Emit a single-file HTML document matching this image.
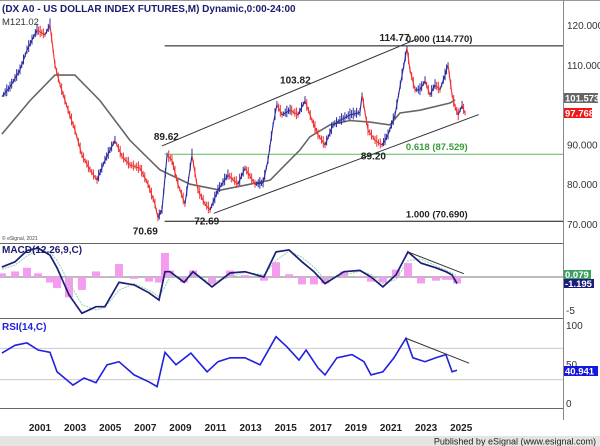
<!DOCTYPE html>
<html><head><meta charset="utf-8"><style>
body{margin:0;background:#fff;}
svg{display:block;font-family:"Liberation Sans",sans-serif;}
</style></head><body>
<svg id="c" width="600" height="446" viewBox="0 0 600 446">
<rect x="0" y="0" width="600" height="446" fill="#fff"/>
<g id="frame">
<line x1="0" y1="0.5" x2="600" y2="0.5" stroke="#999"/>
<line x1="563.5" y1="0" x2="563.5" y2="420" stroke="#888"/>
<line x1="0" y1="243.5" x2="563" y2="243.5" stroke="#666"/>
<line x1="0" y1="318.5" x2="563" y2="318.5" stroke="#666"/>
<line x1="0" y1="408.5" x2="563" y2="408.5" stroke="#666"/>
</g>
<g id="price"></g><g id="macd"></g><g id="rsi"></g><g id="xaxis"></g>
<rect x="0" y="436" width="600" height="10" fill="#e4e4e4"/>
<text x="596" y="444.5" font-size="9" text-anchor="end" fill="#222">Published by eSignal (www.esignal.com)</text>
</svg>
<script>
const NS="http://www.w3.org/2000/svg";
// ---- data ----
const priceDates=[1998.83,1999.29,1999.86,2000.26,2000.83,2001.28,2001.57,2001.85,2002.14,2002.6,2002.99,2003.39,2003.85,2004.25,2004.7,2005.27,2005.67,2006.13,2006.7,2007.15,2007.55,2007.72,2007.95,2008.24,2008.52,2008.86,2009.26,2009.66,2010.0,2010.4,2010.69,2011.14,2011.71,2012.28,2012.68,2013.25,2013.71,2013.99,2014.28,2014.5,2014.79,2015.25,2015.7,2016.1,2016.5,2016.84,2017.24,2017.7,2018.09,2018.66,2019.23,2019.35,2019.69,2020.09,2020.49,2020.83,2021.23,2021.63,2021.91,2022.08,2022.37,2022.65,2022.94,2023.22,2023.51,2023.79,2024.08,2024.25,2024.48,2024.66,2024.83,2025.05,2025.22];
const priceClose=[102,104.4,108.7,113.7,118.7,117.5,120,110,105,98.6,93.6,87.3,83.6,81,86,91,87,84.8,84,80,75,71.6,73.5,87.3,86,80,75,87.3,78.5,75,73.5,78.5,82.3,80,84,80,80.3,86,94.9,100,97.4,98.6,97.4,101,96,92.4,89.8,94.9,96,97.4,98,102.4,93.6,91,89.8,92.4,97.4,107.4,114.2,108.7,103.7,103.7,106,102.4,105,103.7,107.4,110,102.4,99.2,97.4,99.8,97.8];
const maDates=[1998.83,2000.43,2001.85,2002.99,2004.42,2006.13,2007.84,2009.55,2011.26,2012.97,2014.11,2014.96,2015.81,2016.38,2017.52,2018.66,2019.8,2020.94,2021.51,2022.65,2024.36,2024.65];
const maValues=[92.6,101,107.4,107.4,101,91,83.6,80,78.5,80,81,84.8,88.6,91.9,94.9,96,95.6,94.9,97.9,98.6,100.4,101.2];
const priceTicks=[120,110,90,80,70];
const macdDates=[1998.83,1999.58,2000.26,2000.89,2001.57,2001.97,2002.65,2003.39,2004.19,2004.7,2005.5,2006.36,2007.21,2007.78,2008.12,2008.41,2009.21,2009.72,2010.8,2011.83,2012.68,2013.76,2014.45,2015.19,2015.93,2016.61,2017.24,2018.32,2019.23,2019.86,2020.54,2021.28,2021.97,2022.71,2023.56,2024.13,2024.48,2024.76];
const macdValues=[1.5,2.3,4,4.4,3.3,1.4,-2.7,-5.5,-4.5,-4.5,-0.8,-1.2,-2.4,-3.5,0.8,0.8,-0.8,0.8,-1.5,0.6,0.8,0,3.8,4.1,2.3,0.8,-1,0.8,1,0,-1.5,0.3,3.8,2.1,1.4,0.8,0.3,-1];
const signalValues=[1.2,1.8,3.2,4.1,3.8,2.5,-0.8,-4.2,-5,-4.6,-2,-1,-2,-3,-1.5,0.2,-0.3,0.2,-0.8,0,0.7,0.3,2.5,3.9,3,1.5,-0.4,0.3,0.9,0.4,-1,-0.4,2.5,2.7,1.7,1,0.6,0.1];
const histValues=[0.4,0.6,1.0,0.4,-0.6,-1.2,-2.2,-1.4,0.6,0.1,1.4,-0.2,-0.5,-0.6,2.6,0.7,-0.6,0.7,-0.8,0.7,0.2,-0.4,1.6,0.3,-0.8,-0.8,-0.7,0.6,0.1,-0.5,-0.6,0.8,1.5,-0.7,-0.4,-0.3,-0.3,-0.7];
const rsiDates=[1998.83,1999.58,2000.26,2000.89,2001.57,2001.97,2002.88,2003.51,2004.19,2004.82,2005.5,2006.36,2007.21,2007.67,2008.12,2008.75,2009.6,2010.52,2011.14,2011.83,2012.68,2013.54,2014.45,2015.07,2015.76,2016.16,2016.84,2017.24,2017.92,2018.78,2019.46,2019.86,2020.54,2021.17,2021.85,2022.25,2022.94,2023.56,2024.13,2024.48,2024.76];
const rsiValues=[64,74,77,68,65,40,23,32,26,49,53,36,27,21,65,49,64,40,53,58,58,49,85,72,55,68,45,36,58,62,53,36,40,58,83,58,53,58,62,40,42];
const yearLabels=[2001,2003,2005,2007,2009,2011,2013,2015,2017,2019,2021,2023,2025];
// ---- scales ----
const X=t=>40+(t-2001)*17.55;
const YP=p=>25+(120-p)*3.98;
const YM=v=>277-v*6.6;
const YR=v=>403-v*0.78;
function el(tag,attrs,parent,text){const e=document.createElementNS(NS,tag);for(const k in attrs)e.setAttribute(k,attrs[k]);if(text!==undefined)e.textContent=text;document.getElementById(parent).appendChild(e);return e;}
function txt(x,y,s,parent,opt){return el('text',{x:x,y:y,'font-size':opt&&opt.fs||10,fill:opt&&opt.fill||'#222','text-anchor':opt&&opt.anchor||'start','font-weight':opt&&opt.fw||'normal'},parent,s);}

// price panel
let t=txt(2,12,'(DX A0 - US DOLLAR INDEX FUTURES,M) Dynamic,0:00-24:00','price',{fs:10,fill:'#1c1c6e',fw:'bold'});

t=txt(2,25,'M121.02','price',{fs:9.5,fill:'#333'});

t=txt(2,240,'© eSignal, 2021','price',{fs:5,fill:'#444'});

priceTicks.forEach(p=>{const e=txt(567,YP(p)+4,p.toFixed(3),'price',{fs:10,fill:'#333'});

});
[[114.77,'#111','0.000 (114.770)'],[87.529,'#5cb85c','0.618 (87.529)'],[70.69,'#111','1.000 (70.690)']].forEach(([v,c,lab])=>{
const l=el('line',{x1:X(2008.1),x2:563,y1:YP(v),y2:YP(v),stroke:c,'stroke-width':1},'price');


const e=txt(X(2021.85),YP(v)-4,lab,'price',{fs:9.5,fill:c=='#111'?'#222':'#3a9a3a',fw:'bold'});

});
[[2007.95,89.62,2022.48,116.5],[2010.9,72.69,2026.0,97.5]].forEach(c=>{
const l=el('line',{x1:X(c[0]),y1:YP(c[1]),x2:X(c[2]),y2:YP(c[3]),stroke:'#333','stroke-width':1},'price');

});
let d='';maDates.forEach((dt,i)=>{d+=(i?'L':'M')+X(dt).toFixed(1)+','+YP(maValues[i]).toFixed(1);});
let p=el('path',{d:d,fill:'none',stroke:'#666','stroke-width':1.6},'price');


for(let i=1;i<priceDates.length;i++){const up=priceClose[i]>=priceClose[i-1];const col=up?'#2b2b9e':'#ee3333';
const x0=X(priceDates[i-1]),x1=X(priceDates[i]),y0=YP(priceClose[i-1]),y1=YP(priceClose[i]);
const s=el('line',{x1:x0,y1:y0,x2:x1,y2:y1,stroke:col,'stroke-width':1.1},'price');


const n=Math.max(1,Math.round((x1-x0)/1.6));
for(let k=1;k<=n;k++){const xx=x0+(x1-x0)*k/n,yy=y0+(y1-y0)*k/n;const h=2.5+((k*7+i*3)%5);
const b=el('line',{x1:xx,x2:xx,y1:yy-h,y2:yy+h*0.8,stroke:col,'stroke-width':1},'price');

}}
[[2021.2,114.77,'114.77',-5],[2015.55,103.82,'103.82',-6],[2008.2,89.62,'89.62',-6],[2007.0,70.69,'70.69',13],[2010.5,72.69,'72.69',11],[2020.0,89.2,'89.20',12]].forEach(a=>{
const e=txt(X(a[0]),YP(a[1])+a[3],a[2],'price',{fs:10,fill:'#222',fw:'bold',anchor:'middle'});

});
let b=el('rect',{x:564,y:93,width:34,height:10,fill:'#666'},'price');
t=txt(565,101.5,'101.573','price',{fs:9.5,fill:'#fff',fw:'bold'});
b=el('rect',{x:564,y:108,width:28,height:10,fill:'#f01818'},'price');
t=txt(565,116.5,'97.768','price',{fs:9.5,fill:'#fff',fw:'bold'});

// MACD
let z=el('line',{x1:0,x2:563,y1:YM(0),y2:YM(0),stroke:'#777'},'macd');
macdDates.forEach((dt,i)=>{const v=histValues[i]*1.4;const r=el('rect',{x:X(dt)-4,y:Math.min(YM(0),YM(v)),width:8,height:Math.abs(YM(v)-YM(0)),fill:'#f49cf0'},'macd');

});
d='';macdDates.forEach((dt,i)=>{d+=(i?'L':'M')+X(dt).toFixed(1)+','+YM(signalValues[i]).toFixed(1);});
p=el('path',{d:d,fill:'none',stroke:'#8fd0a8','stroke-width':1,'stroke-dasharray':'2,1'},'macd');
d='';macdDates.forEach((dt,i)=>{d+=(i?'L':'M')+X(dt).toFixed(1)+','+YM(macdValues[i]).toFixed(1);});
p=el('path',{d:d,fill:'none',stroke:'#1c1c7a','stroke-width':1.7},'macd');
p=el('line',{x1:X(2021.97),y1:YM(3.8),x2:X(2025.15),y2:YM(0.5),stroke:'#333'},'macd');
t=txt(2,253,'MACD(12,26,9,C)','macd',{fs:10,fill:'#1c1c6e',fw:'bold'});
b=el('rect',{x:564,y:270,width:27,height:9,fill:'#3ea060'},'macd');
t=txt(565,278,'0.079','macd',{fs:9.5,fill:'#fff',fw:'bold'});
b=el('rect',{x:564,y:279,width:30,height:9,fill:'#1c1c7a'},'macd');
t=txt(565,287,'-1.195','macd',{fs:9.5,fill:'#fff',fw:'bold'});
t=txt(566,YM(-5)+4,'-5','macd',{fs:10,fill:'#333'});

// RSI
[70,30].forEach(v=>{const l=el('line',{x1:0,x2:563,y1:YR(v),y2:YR(v),stroke:'#ccc'},'rsi');

});
d='';rsiDates.forEach((dt,i)=>{d+=(i?'L':'M')+X(dt).toFixed(1)+','+YR(rsiValues[i]).toFixed(1);});
p=el('path',{d:d,fill:'none',stroke:'#2020e0','stroke-width':1.6},'rsi');
p=el('line',{x1:X(2021.85),y1:YR(83),x2:X(2025.45),y2:YR(51),stroke:'#333'},'rsi');
t=txt(2,330,'RSI(14,C)','rsi',{fs:10,fill:'#2020e0',fw:'bold'});
[100,50,0].forEach(v=>{const e=txt(566,YR(v)+4,String(v),'rsi',{fs:10,fill:'#333'});

});
b=el('rect',{x:564,y:366,width:34,height:10,fill:'#1515e0'},'rsi');
t=txt(565,374.5,'40.941','rsi',{fs:9.5,fill:'#fff',fw:'bold'});

// x axis
yearLabels.forEach(y=>{const e=txt(X(y),431,String(y),'xaxis',{fs:10,fill:'#222',anchor:'middle',fw:'bold'});

});
</script>
</body></html>
